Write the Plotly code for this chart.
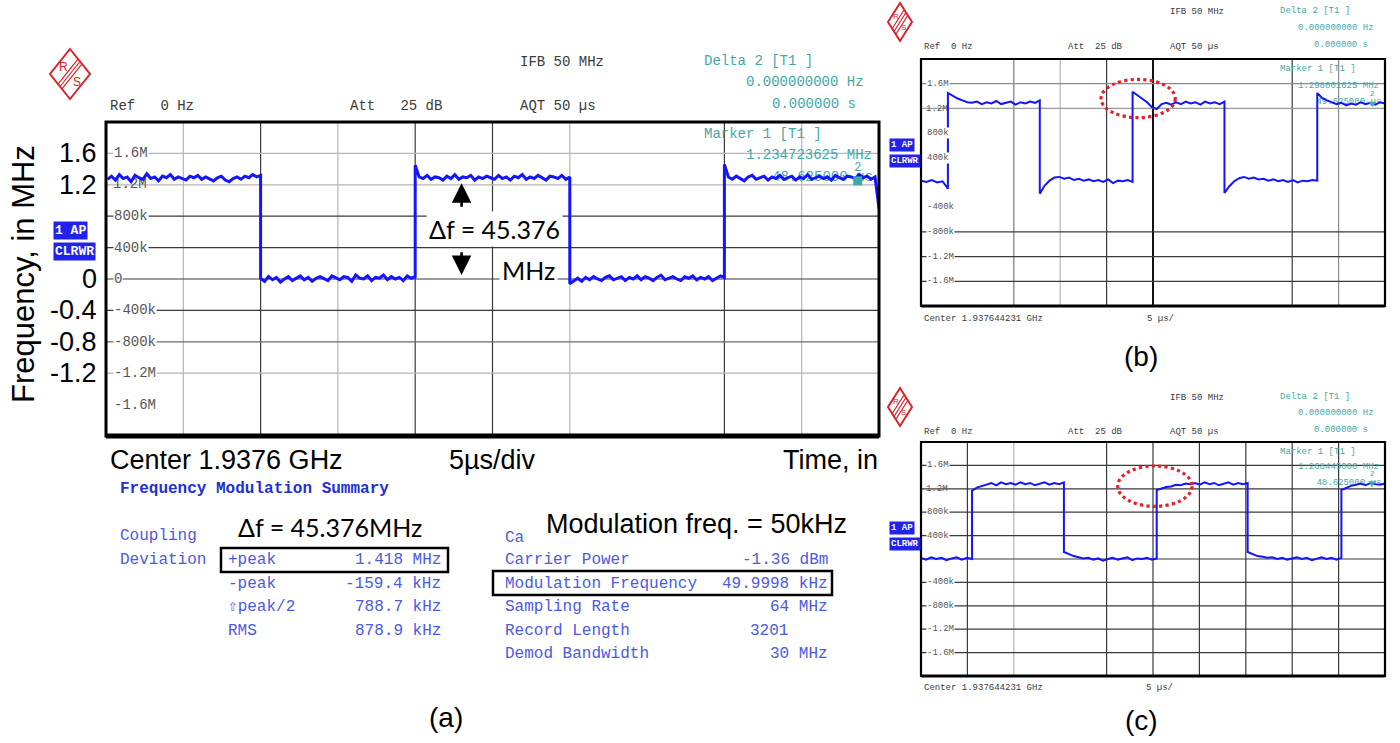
import plotly.graph_objects as go

W, H = 1400, 743

# ------------------------------------------------------------------ data
# (a) demodulated FM signal, time in µs, frequency offset in MHz
a_edges_us = [0.1, 10.0, 20.0, 30.0, 40.0, 50.0]
a_segments_mhz = [
    [1.27, 1.31, 1.26, 1.33, 1.28, 1.30, 1.24, 1.32, 1.29, 1.27, 1.34, 1.28, 1.30, 1.25, 1.31, 1.29, 1.33, 1.27, 1.30, 1.28,
     1.26, 1.31, 1.29, 1.32, 1.27, 1.30, 1.28, 1.25, 1.29, 1.31, 1.26, 1.24, 1.28, 1.30, 1.27, 1.31, 1.29, 1.33, 1.30, 1.32],
    [0.01, -0.03, 0.03, -0.01, 0.02, -0.04, 0.00, 0.03, -0.02, 0.01, 0.04, -0.01, 0.02, -0.03, 0.01, 0.03, 0.00, -0.02, 0.04, 0.01,
     -0.01, 0.03, 0.02, -0.03, 0.05, 0.01, 0.00, 0.04, -0.02, 0.02, 0.01, 0.05, -0.01, 0.03, 0.00, 0.02, -0.02, 0.04, 0.01, 0.03],
    [1.45, 1.30, 1.28, 1.32, 1.27, 1.30, 1.29, 1.26, 1.31, 1.28, 1.33, 1.27, 1.30, 1.29, 1.32, 1.26, 1.30, 1.28, 1.31, 1.29,
     1.27, 1.32, 1.28, 1.30, 1.26, 1.31, 1.29, 1.33, 1.27, 1.30, 1.28, 1.32, 1.29, 1.26, 1.31, 1.30, 1.28, 1.32, 1.27, 1.30],
    [-0.06, -0.02, 0.01, -0.03, 0.02, -0.01, 0.03, 0.00, -0.02, 0.02, 0.04, -0.01, 0.01, 0.03, -0.02, 0.02, 0.00, 0.04, -0.01, 0.03,
     0.01, -0.02, 0.02, 0.05, -0.01, 0.01, 0.03, 0.00, -0.02, 0.03, 0.01, 0.04, -0.01, 0.02, 0.00, 0.03, -0.02, 0.01, 0.04, 0.02],
    [1.46, 1.30, 1.27, 1.31, 1.28, 1.25, 1.30, 1.32, 1.27, 1.29, 1.31, 1.26, 1.30, 1.28, 1.32, 1.27, 1.29, 1.31, 1.26, 1.30,
     1.28, 1.33, 1.27, 1.29, 1.31, 1.28, 1.30, 1.26, 1.32, 1.29, 1.27, 1.31, 1.30, 1.28, 1.33, 1.29, 1.31, 1.27, 1.30, 0.90],
]
# (b)
b_edges_us = [0.0, 2.9, 12.8, 22.8, 32.7, 42.7, 50.0]
b_segments_mhz = [
    [0.03, 0.01, 0.04, 0.00, 0.02, -0.10],
    [1.45, 1.40, 1.36, 1.33, 1.30, 1.29, 1.31, 1.27, 1.30, 1.28, 1.32, 1.27, 1.29, 1.31, 1.26, 1.30, 1.28, 1.31, 1.29, 1.33],
    [-0.18, -0.05, 0.03, 0.08, 0.09, 0.06, 0.08, 0.04, 0.06, 0.03, 0.05, 0.02, 0.04, 0.01, 0.05, -0.01, 0.03, 0.02, 0.04, 0.01],
    [1.47, 1.41, 1.36, 1.30, 1.22, 1.19, 1.27, 1.29, 1.26, 1.30, 1.27, 1.31, 1.28, 1.30, 1.26, 1.31, 1.28, 1.30, 1.27, 1.31],
    [-0.17, -0.06, 0.02, 0.07, 0.09, 0.06, 0.08, 0.05, 0.06, 0.03, 0.05, 0.02, 0.04, 0.01, 0.04, 0.00, 0.03, 0.02, 0.04, 0.03],
    [1.45, 1.37, 1.33, 1.30, 1.27, 1.29, 1.25, 1.28, 1.26, 1.30, 1.27, 1.29, 1.26, 1.30, 1.28],
]
# (c)
c_edges_us = [0.0, 5.5, 15.4, 25.4, 35.2, 45.3, 50.0]
c_segments_mhz = [
    [0.02, -0.01, 0.03, 0.00, 0.02, -0.02, 0.01, 0.03, -0.01, 0.02, 0.00],
    [1.17, 1.22, 1.25, 1.27, 1.30, 1.26, 1.31, 1.28, 1.30, 1.27, 1.31, 1.28, 1.30, 1.26, 1.29, 1.31, 1.27, 1.30, 1.28, 1.31],
    [0.12, 0.08, 0.05, 0.03, 0.01, 0.02, -0.01, 0.01, -0.03, 0.00, 0.02, -0.01, 0.01, 0.03, -0.02, 0.01, 0.00, 0.02, -0.01, 0.01],
    [1.18, 1.21, 1.23, 1.24, 1.27, 1.26, 1.29, 1.28, 1.30, 1.27, 1.31, 1.28, 1.30, 1.26, 1.29, 1.31, 1.27, 1.30, 1.28, 1.30],
    [0.12, 0.08, 0.05, 0.04, 0.02, 0.03, 0.00, 0.02, -0.01, 0.01, 0.03, 0.00, 0.02, -0.02, 0.01, 0.03, 0.00, 0.02, -0.01, 0.02],
    [1.18, 1.22, 1.25, 1.27, 1.29, 1.26, 1.30, 1.28, 1.27, 1.29],
]

marker2_t_us = 48.625
marker2_f_mhz = [1.25, 1.28, 1.30]

ytick_vals = [1.6, 1.2, 0.8, 0.4, 0.0, -0.4, -0.8, -1.2, -1.6]
ytick_instr = ["1.6M", "1.2M", "800k", "400k", "0", "-400k", "-800k", "-1.2M", "-1.6M"]
big_tick_vals = [1.6, 1.2, 0.0, -0.4, -0.8, -1.2]
big_tick_text = ["1.6", "1.2", "0", "-0.4", "-0.8", "-1.2"]

dev_labels = ["+peak", "-peak", "\u21e7peak/2", "RMS"]
dev_values = ["1.418 MHz", "-159.4 kHz", "788.7 kHz", "878.9 kHz"]
meas_labels = ["Carrier Power", "Modulation Frequency", "Sampling Rate", "Record Length", "Demod Bandwidth"]
meas_values = ["-1.36 dBm", "49.9998 kHz", "64 MHz", "3201", "30 MHz"]

marker_freq_text = ["1.234723625 MHz", "1.298001625 MHz", "1.268445000 MHz"]
marker_time_text = ["48.625000 \u00b5s", "49.625000 \u00b5s", "48.625000 \u00b5s"]

# ------------------------------------------------------------------ styles
MONO = "Liberation Mono, Courier New, monospace"
SANS = "Liberation Sans, Arial, sans-serif"
CAL = "Lato, Liberation Sans, sans-serif"
BLUE = "#1414ff"
TEAL = "#3fa9a9"
INSTR = "#3a3a3a"
SUMB = "#1e2fd6"
SUMT = "#4a5ae2"
DARK = "#3a3a3a"
LIGHT = "#b5b5b5"
RED = "#d9222a"


def build(edges, segs):
    t, f = [], []
    for i, vals in enumerate(segs):
        t0, t1 = edges[i], edges[i + 1]
        n = len(vals)
        for j, v in enumerate(vals):
            t.append(t0 + (t1 - t0) * j / (n - 1))
            f.append(v)
    return t, f


ann, shapes = [], []


def P(x, y):
    return x / W, 1 - y / H


def text(x, y, s, size=14, color=INSTR, family=MONO, xa="left", ya="middle", bold=False, bg=None, angle=0, pad=0):
    px, py = P(x, y)
    d = dict(x=px, y=py, xref="paper", yref="paper", text=("<b>%s</b>" % s) if bold else s,
             showarrow=False, xanchor=xa, yanchor=ya, textangle=angle,
             font=dict(size=size, color=color, family=family))
    if bg:
        d["bgcolor"] = bg
        d["borderpad"] = pad
    ann.append(d)


def rect_px(x0, y0, x1, y1, color="black", width=2.5):
    shapes.append(dict(type="rect", xref="paper", yref="paper", x0=x0 / W, x1=x1 / W,
                       y0=1 - y1 / H, y1=1 - y0 / H, line=dict(color=color, width=width), layer="above"))


def logo(cx, cy, hw, hh, fs):
    path = "M %f %f L %f %f L %f %f L %f %f Z" % (
        cx / W, 1 - (cy - hh) / H, (cx + hw) / W, 1 - cy / H, cx / W, 1 - (cy + hh) / H, (cx - hw) / W, 1 - cy / H)
    shapes.append(dict(type="path", path=path, xref="paper", yref="paper", line=dict(color=RED, width=2)))
    for off in (-2.2, 0, 2.2):
        shapes.append(dict(type="line", xref="paper", yref="paper",
                           x0=(cx + hw / 2 + off) / W, y0=1 - (cy - hh / 2 + off) / H,
                           x1=(cx - hw / 2 + off) / W, y1=1 - (cy + hh / 2 + off) / H,
                           line=dict(color=RED, width=1.2)))
    text(cx - hw * 0.33, cy - hh * 0.3, "R", size=fs, color=RED, family=SANS, xa="center")
    text(cx + hw * 0.33, cy + hh * 0.3, "S", size=fs, color=RED, family=SANS, xa="center")


fig = go.Figure()

panels = [
    dict(ax="", x0=106, x1=879, y0=122, y1=436, edges=a_edges_us, segs=a_segments_mhz, lw=3.0,
         vgrid=[(5, LIGHT), (10, DARK), (15, LIGHT), (20, DARK), (25, DARK), (30, LIGHT), (40, DARK), (45, LIGHT)],
         hgrid=[(1.6, LIGHT), (1.2, LIGHT), (0.8, DARK), (0.4, DARK), (0.0, DARK), (-0.4, DARK), (-0.8, "#6a6a6a"), (-1.2, LIGHT)],
         fs=14, lblx=113, border=3, bottom=5, mfs=12),
    dict(ax="2", x0=921, x1=1385, y0=59, y1=306, edges=b_edges_us, segs=b_segments_mhz, lw=2.0,
         vgrid=[(10, "#7a7a7a"), (15, LIGHT), (20, DARK), (25, "#111"), (40, DARK), (45, "#8a8a8a")],
         hgrid=[(1.6, "#8a8a8a"), (1.2, "#9a9a9a"), (-0.8, DARK), (-1.2, DARK), (-1.6, DARK)],
         fs=9, lblx=926, border=2.2, bottom=3, mfs=8),
    dict(ax="3", x0=921, x1=1385, y0=442, y1=676, edges=c_edges_us, segs=c_segments_mhz, lw=2.0,
         vgrid=[(5, DARK), (10, LIGHT), (20, DARK), (25, DARK), (30, DARK), (35, DARK), (40, DARK), (45, DARK)],
         hgrid=[(1.6, DARK), (1.2, DARK), (0.8, DARK), (0.4, DARK), (0.0, DARK), (-0.4, DARK), (-0.8, DARK), (-1.2, DARK), (-1.6, DARK)],
         fs=9, lblx=926, border=2.2, bottom=3, mfs=8),
]

layout_axes = {}
for i, p in enumerate(panels):
    xa, ya = "x" + p["ax"], "y" + p["ax"]
    layout_axes["xaxis" + p["ax"]] = dict(domain=[p["x0"] / W, p["x1"] / W], anchor=ya, range=[0, 50],
                                         showgrid=False, zeroline=False, showticklabels=False, ticks="",
                                         showline=False, fixedrange=True)
    layout_axes["yaxis" + p["ax"]] = dict(domain=[1 - p["y1"] / H, 1 - p["y0"] / H], anchor=xa, range=[-2, 2],
                                         showgrid=False, zeroline=False, showticklabels=False, ticks="",
                                         showline=False, fixedrange=True)
    for v, col in p["vgrid"]:
        shapes.append(dict(type="line", xref=xa, yref=ya + " domain", x0=v, x1=v, y0=0, y1=1,
                           line=dict(color=col, width=2 if col == "#111" else 1.2), layer="below"))
    for v, col in p["hgrid"]:
        shapes.append(dict(type="line", xref=xa + " domain", yref=ya, x0=0, x1=1, y0=v, y1=v,
                           line=dict(color=col, width=1.2), layer="below"))
    for v, s in zip(ytick_vals, ytick_instr):
        if s == "1.2M" or (s == "0" and i > 0):
            continue
        ann.append(dict(x=p["lblx"] / W, y=v, xref="paper", yref=ya, text=s, showarrow=False,
                        xanchor="left", yanchor="middle", bgcolor="white", borderpad=0,
                        font=dict(size=p["fs"], color="#555", family=MONO)))
    # 1.2M label sits under the trace
    fig.add_trace(go.Scatter(x=[(p["lblx"] - p["x0"]) / (p["x1"] - p["x0"]) * 50], y=[1.2], mode="text",
                             text=["1.2M"], textposition="middle right",
                             textfont=dict(size=p["fs"], color="#555", family=MONO),
                             xaxis=xa, yaxis=ya, hoverinfo="skip", showlegend=False))
    # marker time readout, partly hidden by the trace
    fig.add_trace(go.Scatter(x=[49.6], y=[1.29 if i == 0 else (1.30 if i == 1 else 1.31)], mode="text",
                             text=[marker_time_text[i]], textposition="middle left",
                             textfont=dict(size=p["fs"], color=TEAL, family=MONO),
                             xaxis=xa, yaxis=ya, hoverinfo="skip", showlegend=False))
    t, f = build(p["edges"], p["segs"])
    fig.add_trace(go.Scatter(x=t, y=f, mode="lines", line=dict(color=BLUE, width=p["lw"]),
                             xaxis=xa, yaxis=ya, hoverinfo="skip", showlegend=False))
    # marker 2
    fig.add_trace(go.Scatter(x=[marker2_t_us], y=[marker2_f_mhz[i]], mode="markers+text", text=["2"],
                             textposition="top center",
                             textfont=dict(size=p["mfs"], color=TEAL, family=MONO),
                             marker=dict(symbol="triangle-down" if i else "square", size=9 if i == 0 else 7,
                                         color=TEAL),
                             xaxis=xa, yaxis=ya, hoverinfo="skip", showlegend=False))
    shapes.append(dict(type="rect", xref=xa + " domain", yref=ya + " domain", x0=0, x1=1, y0=0, y1=1,
                       line=dict(color="black", width=p["border"]), layer="above"))
    shapes.append(dict(type="line", xref=xa + " domain", yref=ya + " domain", x0=0, x1=1, y0=0, y1=0,
                       line=dict(color="black", width=p["bottom"]), layer="above"))

# ------------------------------------------------------------------ panel (a) extras
logo(70, 74, 20, 25, 12)
text(108, 106, "Ref\u00a0\u00a0 0\u00a0Hz")
text(348, 106, "Att\u00a0\u00a0 25\u00a0dB")
text(518, 106, "AQT\u00a050\u00a0\u00b5s")
text(518, 62, "IFB\u00a050\u00a0MHz")
text(702, 61, "Delta 2 [T1 ]", color=TEAL)
text(866, 82, "0.000000000 Hz", color=TEAL, xa="right")
text(858, 104, "0.000000 s", color=TEAL, xa="right")
text(702, 134, "Marker 1 [T1 ]", color=TEAL)
text(874, 155, marker_freq_text[0], color=TEAL, xa="right")
text(53, 230, "1\u00a0AP", size=13, color="white", bold=True, bg="#2222ee", pad=1)
text(53, 251, "CLRWR", size=13, color="white", bold=True, bg="#2222ee", pad=1)
for v, s in zip(big_tick_vals, big_tick_text):
    ann.append(dict(x=99 / W, y=v, xref="paper", yref="y", text=s, showarrow=False, xanchor="right",
                    yanchor="middle", font=dict(size=27, color="black", family=SANS)))
text(23, 274, "Frequency, in MHz", size=31, color="black", family=SANS, xa="center", angle=-90)
text(108, 460, "Center 1.9376 GHz", size=27, color="black", family=SANS)
text(447, 460, "5\u00b5s/div", size=27, color="black", family=SANS)
text(880, 460, "Time, in", size=27, color="black", family=SANS, xa="right")

# delta-f annotation inside the plot
ann.append(dict(x=23.0, y=1.22, ax=23.0, ay=0.90, xref="x", yref="y", axref="x", ayref="y", text="",
                showarrow=True, arrowhead=2, arrowsize=1.5, arrowwidth=2.6, arrowcolor="black"))
ann.append(dict(x=23.0, y=0.05, ax=23.0, ay=0.36, xref="x", yref="y", axref="x", ayref="y", text="",
                showarrow=True, arrowhead=2, arrowsize=1.5, arrowwidth=2.6, arrowcolor="black"))
ann.append(dict(x=25.1, y=0.64, xref="x", yref="y", text="\u0394f = 45.376", showarrow=False, bgcolor="white",
                borderpad=2, font=dict(size=25, color="black", family=CAL)))
ann.append(dict(x=27.3, y=0.11, xref="x", yref="y", text="MHz", showarrow=False, bgcolor="white",
                borderpad=2, font=dict(size=25, color="black", family=CAL)))

# summary table
text(118, 489, "Frequency Modulation Summary", size=16, color=SUMB, bold=True)
text(330, 527, "\u0394f = 45.376MHz", size=25, color="black", family=CAL, xa="center")
text(118, 536, "Coupling", size=16, color=SUMT)
text(118, 560, "Deviation", size=16, color=SUMT)
for k, (lab, val) in enumerate(zip(dev_labels, dev_values)):
    yy = 560 + k * 23.7
    text(226, yy, lab, size=16, color=SUMT)
    text(443, yy, val, size=16, color=SUMT, xa="right")
text(503, 538, "Ca", size=16, color=SUMT)
text(696, 524, "Modulation freq. = 50kHz", size=27, color="black", family=SANS, xa="center")
for k, (lab, val) in enumerate(zip(meas_labels, meas_values)):
    yy = 560 + k * 23.6
    text(503, yy, lab, size=16, color=SUMT)
    text(790 if val == "3201" else 830, yy, val, size=16, color=SUMT, xa="right")
rect_px(221, 548, 448, 572)
rect_px(493, 571, 832, 595)
text(446, 717, "(a)", size=28, color="black", family=SANS, xa="center")

# ------------------------------------------------------------------ panels (b), (c) extras
for i, oy in ((1, 0), (2, 385)):
    logo(900, 22 + oy, 12, 19, 8)
    fs = 9
    text(1168, 12 + oy + (1 if i == 2 else 0), "IFB\u00a050\u00a0MHz", size=fs)
    text(1278, 11 + oy + (1 if i == 2 else 0), "Delta 2 [T1 ]", size=fs, color=TEAL)
    text(1376, 28 + oy, "0.000000000 Hz", size=fs, color=TEAL, xa="right")
    text(1370, 46 + oy - 1, "0.000000 s", size=fs, color=TEAL, xa="right")
    text(922, 47 + oy, "Ref\u00a0\u00a00\u00a0Hz", size=fs)
    text(1066, 47 + oy, "Att\u00a0\u00a025\u00a0dB", size=fs)
    text(1168, 47 + oy, "AQT\u00a050\u00a0\u00b5s", size=fs)
    text(1278, 69 + oy - (2 if i == 2 else 0), "Marker 1 [T1 ]", size=fs, color=TEAL)
    text(1381, 86 + oy - (4 if i == 2 else 0), marker_freq_text[i], size=fs, color=TEAL, xa="right")
    text(889, 145 + oy - 2 if i == 2 else 145, "1\u00a0AP", size=9, color="white", bold=True, bg="#2222ee", pad=1)
    text(889, 161 + oy - 2 if i == 2 else 161, "CLRWR", size=9, color="white", bold=True, bg="#2222ee", pad=1)

text(922, 319, "Center 1.937644231 GHz", size=9)
text(1145, 319, "5\u00a0\u00b5s/", size=9)
text(922, 688, "Center 1.937644231 GHz", size=9)
text(1144, 688, "5\u00a0\u00b5s/", size=9)
text(1141, 356, "(b)", size=28, color="black", family=SANS, xa="center")
text(1141, 720, "(c)", size=28, color="black", family=SANS, xa="center")

# red dashed ellipses highlighting the transient
shapes.append(dict(type="circle", xref="x2", yref="y2", x0=19.4, x1=27.4, y0=1.05, y1=1.67,
                   line=dict(color="#e5202a", width=3.2, dash="dot"), layer="above"))
shapes.append(dict(type="circle", xref="x3", yref="y3", x0=21.2, x1=29.2, y0=0.90, y1=1.59,
                   line=dict(color="#e5202a", width=3.2, dash="dot"), layer="above"))

fig.update_layout(width=W, height=H, margin=dict(l=0, r=0, t=0, b=0), paper_bgcolor="white",
                  plot_bgcolor="white", showlegend=False, annotations=ann, shapes=shapes, **layout_axes)

fig.write_html("out.html", config={"displayModeBar": False},
               post_script="document.body.style.margin='0';")
